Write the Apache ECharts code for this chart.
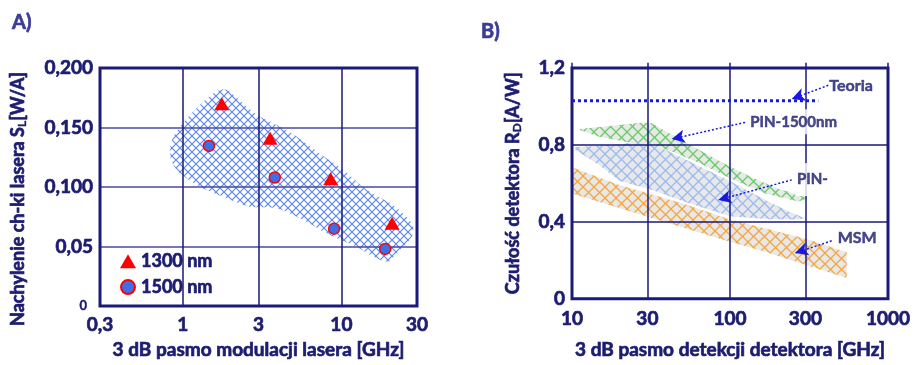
<!DOCTYPE html>
<html><head><meta charset="utf-8">
<script src="https://cdn.jsdelivr.net/npm/echarts@6/dist/echarts.min.js"></script>
<style>html,body{margin:0;padding:0;background:#fff}#c{width:916px;height:365px}</style>
</head><body><div id="c"></div>
<script>
// ================= DATA: chart A =================
const xTicksA = [0.3, 1, 3, 10, 30];
const xTickLabelsA = ['0,3', '1', '3', '10', '30'];
const yTicksA = [0, 0.05, 0.1, 0.15, 0.2];
const yTickLabelsA = ['0', '0,05', '0,100', '0,150', '0,200'];
const ghz1300 = [1.76, 3.55, 8.56, 20.9];
const sl1300 = [0.170, 0.141, 0.107, 0.0695];
const ghz1500 = [1.46, 3.8, 9.0, 18.9];
const sl1500 = [0.1345, 0.108, 0.065, 0.048];
const regionAx = [0.83, 0.87, 0.98, 1.22, 1.56, 1.80, 1.98, 2.53, 3.07, 3.91, 5.23, 7.69, 10.3, 14.5, 20.3, 25.8, 28.4, 27.8, 22.3, 19.8, 16.7, 12.5, 8.48, 5.75, 3.91, 2.65, 1.80, 1.28, 0.96, 0.85];
const regionAy = [0.1311, 0.1423, 0.1521, 0.1661, 0.1787, 0.1821, 0.1801, 0.1675, 0.1591, 0.1521, 0.1423, 0.1261, 0.1143, 0.0975, 0.0863, 0.0750, 0.0666, 0.0582, 0.0443, 0.0372, 0.0401, 0.0498, 0.0597, 0.0723, 0.0821, 0.0834, 0.0918, 0.1003, 0.1115, 0.1213];

// ================= DATA: chart B =================
const xTicksB = [10, 30, 100, 300, 1000];
const xTickLabelsB = ['10', '30', '100', '300', '1000'];
const yTicksB = [0, 0.4, 0.8, 1.2];
const yTickLabelsB = ['0', '0,4', '0,8', '1,2'];
const teoriaX = [10, 362];
const teoriaY = [1.03, 1.03];
const greenX = [11.2, 16.2, 28.3, 31.9, 44.9, 63, 92.9, 137, 202, 271, 313, 271, 167, 102.5, 63, 44.9, 31.9, 23.9, 14.7, 11.2];
const greenY = [0.883, 0.895, 0.917, 0.912, 0.844, 0.776, 0.700, 0.632, 0.572, 0.539, 0.522, 0.505, 0.547, 0.623, 0.708, 0.759, 0.805, 0.810, 0.844, 0.878];
const blueX = [10.45, 18.7, 29, 38.8, 63, 102.5, 167, 246, 298, 277, 179, 100, 53.2, 31.9, 20.1, 15.0, 10.45];
const blueY = [0.788, 0.801, 0.819, 0.776, 0.691, 0.607, 0.513, 0.445, 0.420, 0.412, 0.413, 0.429, 0.500, 0.566, 0.612, 0.693, 0.776];
const orangeX = [10, 20.1, 32.5, 53.2, 100, 306, 548, 548, 306, 171, 95.3, 31.9, 10];
const orangeY = [0.683, 0.590, 0.540, 0.488, 0.412, 0.310, 0.242, 0.107, 0.174, 0.242, 0.301, 0.420, 0.547];
const annotText = ['Teoria', 'PIN-1500nm', 'PIN-', 'MSM'];
const annotX = [425, 130.6, 257.8, 480];
const annotY = [1.105, 0.920, 0.620, 0.315];
const arrowFromX = [419, 124.5, 246, 440];
const arrowFromY = [1.110, 0.917, 0.618, 0.301];
const arrowToX = [246, 42.8, 84.3, 258];
const arrowToY = [1.039, 0.830, 0.513, 0.237];

// ================= STYLE =================
const NAVY = '#1a1a7c';
const TXT = '#1c1c70';
const FONT = 'Lato, "Open Sans", sans-serif';
const lg = Math.log10;

function hatch(size, color, bg, lw) {
  const c = document.createElement('canvas');
  c.width = size; c.height = size;
  const g = c.getContext('2d');
  if (bg) { g.fillStyle = bg; g.fillRect(0, 0, size, size); }
  g.strokeStyle = color; g.lineWidth = lw;
  g.beginPath();
  g.moveTo(0, 0); g.lineTo(size, size);
  g.moveTo(size, 0); g.lineTo(0, size);
  g.stroke();
  return { image: c, repeat: 'repeat' };
}

function nearestLabel(ticks, labels, v) {
  let bi = 0, bd = Infinity;
  ticks.forEach((t, i) => { const d = Math.abs(t - v); if (d < bd) { bd = d; bi = i; } });
  return labels[bi];
}

function polySeries(xAxisIndex, xs, ys, fill, smooth) {
  return {
    type: 'custom', xAxisIndex, yAxisIndex: xAxisIndex, z: 1, silent: true,
    data: xs.map((x, i) => [lg(x), ys[i]]),
    renderItem: function (params, api) {
      if (params.dataIndex !== 0) return null;
      const pts = xs.map((x, i) => api.coord([lg(x), ys[i]]));
      return { type: 'polygon', shape: { points: pts, smooth: smooth }, style: { fill: fill, stroke: null } };
    }
  };
}

function ts(size, bw) {
  return { color: TXT, fontSize: size, fontWeight: 'bold', fontFamily: FONT,
    textBorderColor: TXT, textBorderWidth: bw === undefined ? 0.7 : bw };
}

function xAxisLog(gridIndex, ticks, labels, height, margin, name, nameGap) {
  const tv = ticks.map(lg);
  return {
    type: 'value', gridIndex, min: lg(ticks[0]), max: lg(ticks[ticks.length - 1]), z: 5,
    axisLine: { show: false }, splitLine: { show: false },
    axisTick: { show: true, inside: true, length: height, customValues: tv, lineStyle: { color: NAVY, width: 1.5 } },
    axisLabel: Object.assign({ customValues: tv, margin, formatter: v => nearestLabel(tv, labels, v) }, ts(19)),
    name, nameLocation: 'middle', nameGap,
    nameTextStyle: ts(19)
  };
}

function yAxisLin(gridIndex, ticks, labels, splitColor, name, nameGap, namePad, rich) {
  return {
    type: 'value', gridIndex, min: ticks[0], max: ticks[ticks.length - 1], interval: ticks[1] - ticks[0], z: 5,
    axisLine: { show: false }, axisTick: { show: false },
    splitLine: { show: true, lineStyle: { color: splitColor, width: 1.5 } },
    axisLabel: Object.assign({ margin: 7, formatter: v => { const s = nearestLabel(ticks, labels, v); return (gridIndex === 0 && s === '0') ? '{z|0}' : s; },
      rich: { z: Object.assign(ts(13, 0.4), { padding: [0, 6, 0, 0] }) } }, ts(19)),
    name, nameLocation: 'middle', nameGap,
    nameTextStyle: Object.assign(ts(18), { padding: namePad, rich: rich })
  };
}

const richName = {
  n: ts(18),
  s: Object.assign(ts(12, 0.4), { verticalAlign: 'bottom', padding: [8, 0, 0, 0] })
};

const chart = echarts.init(document.getElementById('c'), null, { renderer: 'canvas' });
const option = {
  animation: false,
  backgroundColor: '#ffffff',
  title: [
    { text: 'A)', left: 7, top: 8, textStyle: Object.assign(ts(20), { color: '#3c3c98', textBorderColor: '#3c3c98' }) },
    { text: 'B)', left: 476, top: 17, textStyle: Object.assign(ts(20), { color: '#3c3c98', textBorderColor: '#3c3c98' }) }
  ],
  legend: {
    data: ['1300 nm', '1500 nm'], orient: 'vertical', left: 120, top: 252, padding: 0, itemGap: 7,
    itemWidth: 16, itemHeight: 14,
    textStyle: ts(18)
  },
  grid: [
    { left: 100, top: 68, width: 317, height: 238, show: true, borderColor: NAVY, borderWidth: 3, z: 6, backgroundColor: 'transparent' },
    { left: 572, top: 68, width: 316, height: 236, show: true, borderColor: NAVY, borderWidth: 3, z: 6, backgroundColor: 'transparent' }
  ],
  xAxis: [
    xAxisLog(0, xTicksA, xTickLabelsA, 238, 9, '3 dB pasmo modulacji lasera [GHz]', 34),
    xAxisLog(1, xTicksB, xTickLabelsB, 236, 11, '3 dB pasmo detekcji detektora [GHz]', 42)
  ],
  yAxis: [
    yAxisLin(0, yTicksA, yTickLabelsA, '#4a4aa0', '{n|Nachylenie ch-ki lasera S}{s|L}{n|[W/A]}', 72, [0, 24, 0, 0], richName),
    yAxisLin(1, yTicksB, yTickLabelsB, NAVY, '{n|Czułość detektora R}{s|D}{n|[A/W]}', 49, [0, 0, 0, 0], richName)
  ],
  series: [
    polySeries(0, regionAx, regionAy, hatch(8, '#5d88ea', null, 1.2), 0.25),
    {
      name: '1300 nm', type: 'scatter', xAxisIndex: 0, yAxisIndex: 0, z: 10,
      symbol: 'triangle', symbolSize: [15, 13],
      itemStyle: { color: '#ff0000', opacity: 1 },
      data: ghz1300.map((x, i) => [lg(x), sl1300[i]])
    },
    {
      name: '1500 nm', type: 'scatter', xAxisIndex: 0, yAxisIndex: 0, z: 10,
      symbol: 'circle', symbolSize: 11,
      itemStyle: { color: '#3f6fe6', borderColor: '#ff0000', borderWidth: 1.5, opacity: 1 },
      data: ghz1500.map((x, i) => [lg(x), sl1500[i]])
    },
    polySeries(1, orangeX, orangeY, hatch(11, '#f6a63c', '#e8e8e8', 1.3), 0),
    polySeries(1, greenX, greenY, hatch(11, '#66cc66', '#e8e8e8', 1.3), 0),
    polySeries(1, blueX, blueY, hatch(11, '#9bbaf2', '#e8e8e8', 1.3), 0),
    {
      type: 'line', xAxisIndex: 1, yAxisIndex: 1, z: 8, symbol: 'none', silent: true,
      lineStyle: { color: '#1818e0', width: 3, type: [3, 3] },
      data: teoriaX.map((x, i) => [lg(x), teoriaY[i]]),
      markLine: {
        silent: true, symbol: ['none', 'arrow'], symbolSize: [10, 13], animation: false,
        label: { show: false },
        lineStyle: { color: '#1818e0', width: 1.5, type: [2, 2] },
        data: arrowFromX.map((x, i) => [{ coord: [lg(x), arrowFromY[i]] }, { coord: [lg(arrowToX[i]), arrowToY[i]] }])
      }
    },
    {
      type: 'scatter', xAxisIndex: 1, yAxisIndex: 1, z: 20, symbolSize: 0, silent: true,
      data: annotX.map((x, i) => ({ value: [lg(x), annotY[i]], name: annotText[i] })),
      label: Object.assign({
        show: true, position: 'right', distance: 0,
        formatter: p => p.name === 'PIN-1500nm' ? '{w|' + p.name + '}' : p.name === 'PIN-' ? '{v|' + p.name + '}' : '{t|' + p.name + '}',
        rich: {
          t: ts(16, 0.5),
          w: Object.assign(ts(15, 0.5), { backgroundColor: '#fff', padding: [5, 2, 5, 2] }),
          v: Object.assign(ts(15, 0.5), { backgroundColor: '#fff', padding: [9, 18, 9, 2] })
        }
      }, ts(15, 0.5))
    }
  ]
};
chart.setOption(option);
</script>
</body></html>
